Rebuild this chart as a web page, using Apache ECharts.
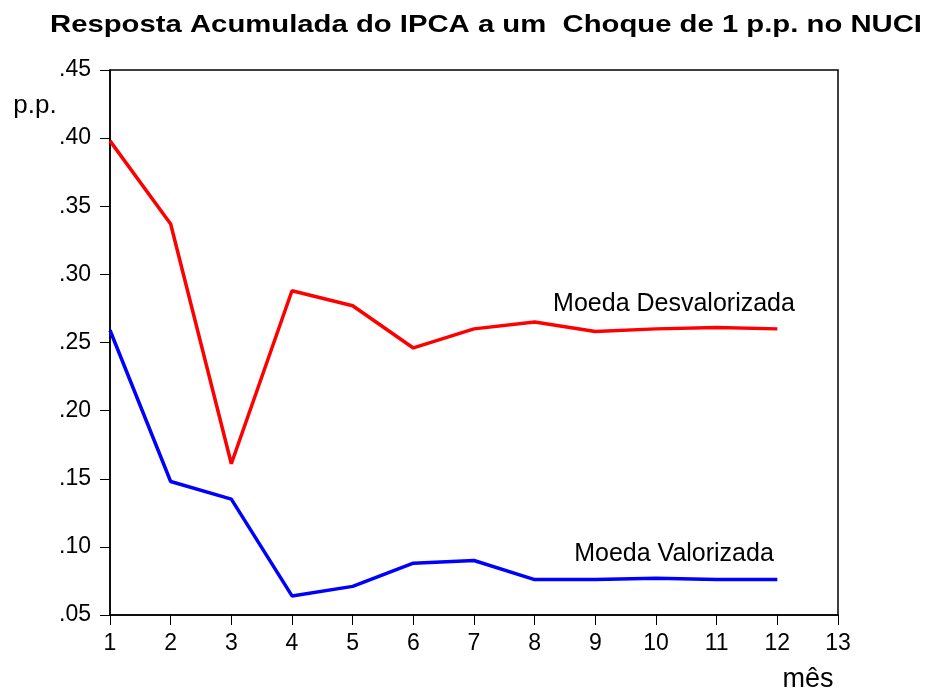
<!DOCTYPE html>
<html>
<head>
<meta charset="utf-8">
<script src="https://cdn.jsdelivr.net/npm/echarts@6/dist/echarts.min.js"></script>
<style>
  html, body { margin: 0; padding: 0; background: #fff; }
  #chart { width: 928px; height: 691px; }
</style>
</head>
<body>
<div id="chart"></div>
<script>
// meses 1..12
var meses = [1, 2, 3, 4, 5, 6, 7, 8, 9, 10, 11, 12];
var desvalorizada = [0.398, 0.337, 0.161, 0.288, 0.277, 0.246, 0.260, 0.265, 0.258, 0.260, 0.261, 0.260];
var valorizada = [0.259, 0.148, 0.135, 0.064, 0.071, 0.088, 0.090, 0.076, 0.076, 0.077, 0.076, 0.076];
var rotuloIdx = 9; // ponto onde fica o nome da serie

function pares(vals) {
    return meses.map(function (m, i) { return [m, vals[i]]; });
}

function rotulo(nome) {
    return {
        show: true,
        position: 'top',
        distance: 12,
        offset: [18, 0],
        color: '#000',
        fontFamily: 'Liberation Sans, Arial, sans-serif',
        fontSize: 25,
        formatter: function (p) { return p.dataIndex === rotuloIdx ? nome : ''; }
    };
}

var fonte = 'Liberation Sans, Arial, sans-serif';

option = {
    backgroundColor: '#fff',
    animation: false,
    grid: {
        left: 110,
        right: 90,
        top: 70,
        bottom: 76,
        show: true,
        borderColor: '#000',
        borderWidth: 1.5
    },
    xAxis: {
        type: 'value',
        min: 1,
        max: 13,
        interval: 1,
        axisLine: { show: true, onZero: false, lineStyle: { color: '#000', width: 1.5 } },
        axisTick: { show: true, inside: false, length: 10, lineStyle: { color: '#000' } },
        axisLabel: { color: '#000', fontFamily: fonte, fontSize: 23, margin: 17 },
        splitLine: { show: false }
    },
    yAxis: {
        type: 'value',
        min: 0.05,
        max: 0.45,
        interval: 0.05,
        axisLine: { show: true, lineStyle: { color: '#000', width: 1.5 } },
        axisTick: { show: true, inside: false, length: 10, lineStyle: { color: '#000' } },
        axisLabel: {
            color: '#000',
            fontFamily: fonte,
            fontSize: 23,
            margin: 19,
            formatter: function (v) { return v.toFixed(2).replace(/^0/, ''); }
        },
        splitLine: { show: false }
    },
    graphic: [
        {
            type: 'text',
            x: 486,
            y: 25,
            scaleX: 1.22,
            style: {
                text: 'Resposta Acumulada do IPCA a um  Choque de 1 p.p. no NUCI',
                font: 'bold 24px Liberation Sans, Arial, sans-serif',
                fill: '#000',
                align: 'center',
                verticalAlign: 'middle'
            }
        },
        {
            type: 'text',
            x: 35,
            y: 106,
            style: {
                text: 'p.p.',
                font: '26px Liberation Sans, Arial, sans-serif',
                fill: '#000',
                align: 'center',
                verticalAlign: 'middle'
            }
        },
        {
            type: 'text',
            x: 808,
            y: 680,
            style: {
                text: 'mês',
                font: '27px Liberation Sans, Arial, sans-serif',
                fill: '#000',
                align: 'center',
                verticalAlign: 'middle'
            }
        }
    ],
    series: [
        {
            name: 'Moeda Desvalorizada',
            type: 'line',
            data: pares(desvalorizada),
            symbol: 'circle',
            symbolSize: 0,
            showSymbol: true,
            lineStyle: { color: '#ff0000', width: 3.5 },
            itemStyle: { color: '#ff0000' },
            label: rotulo('Moeda Desvalorizada')
        },
        {
            name: 'Moeda Valorizada',
            type: 'line',
            data: pares(valorizada),
            symbol: 'circle',
            symbolSize: 0,
            showSymbol: true,
            lineStyle: { color: '#0000ff', width: 3.5 },
            itemStyle: { color: '#0000ff' },
            label: rotulo('Moeda Valorizada')
        }
    ]
};

var grafico = echarts.init(document.getElementById('chart'));
grafico.setOption(option);
</script>
</body>
</html>
